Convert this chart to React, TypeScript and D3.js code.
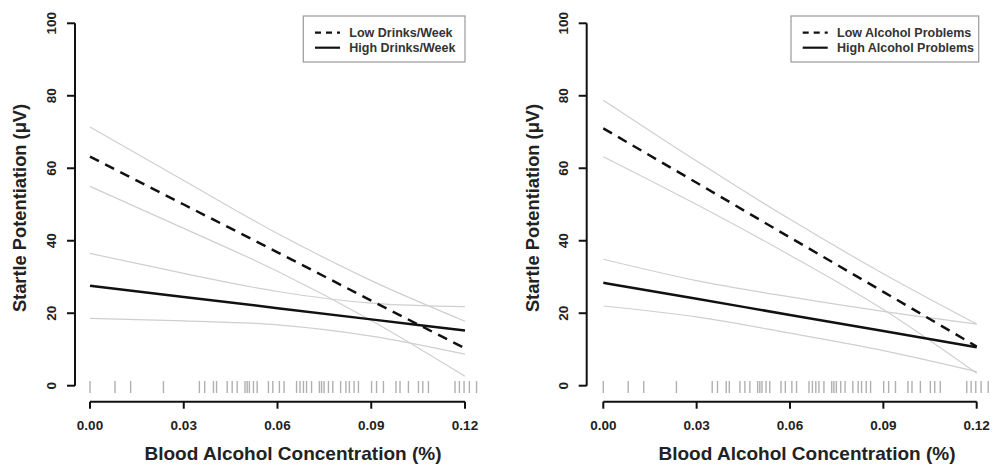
import { useRef, useEffect } from 'react';
import * as d3 from 'd3';

const bacGrid = [0, 0.03, 0.06, 0.09, 0.12];

// left panel: drinks per week
const drinksLowFit = [63.2, 50.0, 36.8, 23.5, 10.3];
const drinksLowUpper = [71.4, 56.6, 42.0, 29.0, 17.8];
const drinksLowLower = [55.0, 43.4, 31.6, 18.0, 2.6];
const drinksHighFit = [27.6, 24.5, 21.4, 18.3, 15.2];
const drinksHighUpper = [36.5, 31.0, 26.0, 22.8, 21.8];
const drinksHighLower = [18.6, 17.9, 16.8, 13.7, 8.7];

// right panel: alcohol problems
const problemsLowFit = [71.0, 56.0, 40.9, 25.9, 10.8];
const problemsLowUpper = [78.8, 62.0, 45.9, 30.9, 17.0];
const problemsLowLower = [63.2, 50.0, 36.0, 21.0, 3.4];
const problemsHighFit = [28.4, 24.0, 19.5, 15.1, 10.6];
const problemsHighUpper = [34.9, 29.0, 24.5, 20.5, 17.0];
const problemsHighLower = [22.0, 19.0, 14.5, 9.7, 3.9];

// observed BAC values (rug)
const rugBac = [
  0, 0.008, 0.013, 0.0235, 0.035, 0.0367, 0.0395, 0.0405, 0.0439, 0.0455,
  0.0471, 0.0496, 0.0503, 0.051, 0.0523, 0.0535, 0.0571, 0.0585, 0.0606, 0.0621,
  0.0661, 0.0672, 0.0683, 0.0693, 0.0709, 0.0734, 0.0741, 0.0749, 0.0763, 0.0777,
  0.0802, 0.0819, 0.083, 0.0845, 0.0859, 0.0901, 0.0917, 0.0939, 0.0979, 0.0992,
  0.1019, 0.1051, 0.1065, 0.1083, 0.1168, 0.1182, 0.1197, 0.1214, 0.1237,
];

const xTicks = [0, 0.03, 0.06, 0.09, 0.12];
const yTicks = [0, 20, 40, 60, 80, 100];

const FONT = '"Liberation Sans", Arial, sans-serif';

type PanelProps = {
  axisX: number;
  x0: number;
  x1: number;
  titleX: number;
  yTitleX: number;
  lowFit: number[];
  lowUpper: number[];
  lowLower: number[];
  highFit: number[];
  highUpper: number[];
  highLower: number[];
  legendLabels: string[];
  legendBox: { x: number; w: number };
};

const Panel = (p: PanelProps) => {
  const ref = useRef<SVGGElement>(null);

  useEffect(() => {
    const g = d3.select(ref.current);
    g.selectAll('*').remove();

    const x = d3.scaleLinear().domain([0, 0.12]).range([p.x0, p.x1]);
    const y = d3.scaleLinear().domain([0, 100]).range([385.7, 23.3]);

    const line = d3
      .line<number>()
      .x((_, i) => x(bacGrid[i]))
      .y((d) => y(d))
      .curve(d3.curveMonotoneX);

    // confidence bands
    [p.lowUpper, p.lowLower, p.highUpper, p.highLower].forEach((s) => {
      g.append('path')
        .attr('d', line(s))
        .attr('fill', 'none')
        .attr('stroke', '#cfcfcf')
        .attr('stroke-width', 1.2);
    });

    // rug
    g.selectAll('.rug')
      .data(rugBac)
      .enter()
      .append('line')
      .attr('x1', (d) => x(d))
      .attr('x2', (d) => x(d))
      .attr('y1', 381)
      .attr('y2', 393)
      .attr('stroke', '#b0b0b0')
      .attr('stroke-width', 1.4);

    // fitted lines
    g.append('path')
      .attr('d', line(p.highFit))
      .attr('fill', 'none')
      .attr('stroke', '#111')
      .attr('stroke-width', 2.5);
    g.append('path')
      .attr('d', line(p.lowFit))
      .attr('fill', 'none')
      .attr('stroke', '#111')
      .attr('stroke-width', 2.5)
      .attr('stroke-dasharray', '10,7');

    // y axis
    const ya = g.append('g').attr('transform', `translate(${p.axisX},0)`);
    ya.append('line')
      .attr('y1', y(0))
      .attr('y2', y(100))
      .attr('stroke', '#111')
      .attr('stroke-width', 2);
    yTicks.forEach((t) => {
      ya.append('line')
        .attr('x1', 0)
        .attr('x2', -8)
        .attr('y1', y(t))
        .attr('y2', y(t))
        .attr('stroke', '#111')
        .attr('stroke-width', 2);
      ya.append('text')
        .attr('transform', `translate(-19,${y(t)}) rotate(-90)`)
        .attr('text-anchor', 'middle')
        .attr('font-family', FONT)
        .attr('font-weight', 'bold')
        .attr('font-size', 13.5)
        .attr('fill', '#222')
        .text(t);
    });

    // x axis
    const xa = g.append('g').attr('transform', 'translate(0,401.7)');
    xa.append('line')
      .attr('x1', x(0))
      .attr('x2', x(0.12))
      .attr('stroke', '#111')
      .attr('stroke-width', 2);
    xTicks.forEach((t) => {
      xa.append('line')
        .attr('x1', x(t))
        .attr('x2', x(t))
        .attr('y1', 0)
        .attr('y2', 7)
        .attr('stroke', '#111')
        .attr('stroke-width', 2);
      xa.append('text')
        .attr('x', x(t))
        .attr('y', 28)
        .attr('text-anchor', 'middle')
        .attr('font-family', FONT)
        .attr('font-weight', 'bold')
        .attr('font-size', 13.5)
        .attr('fill', '#222')
        .text(d3.format('.2f')(t));
    });

    // titles
    g.append('text')
      .attr('x', p.titleX)
      .attr('y', 460)
      .attr('text-anchor', 'middle')
      .attr('font-family', FONT)
      .attr('font-weight', 'bold')
      .attr('font-size', 19)
      .attr('fill', '#222')
      .text('Blood Alcohol Concentration (%)');
    g.append('text')
      .attr('transform', `translate(${p.yTitleX},208) rotate(-90)`)
      .attr('text-anchor', 'middle')
      .attr('font-family', FONT)
      .attr('font-weight', 'bold')
      .attr('font-size', 18.3)
      .attr('fill', '#222')
      .text('Startle Potentiation (μV)');

    // legend
    const lg = g.append('g').attr('transform', `translate(${p.legendBox.x},16)`);
    lg.append('rect')
      .attr('width', p.legendBox.w)
      .attr('height', 46)
      .attr('fill', '#fff')
      .attr('stroke', '#999')
      .attr('stroke-width', 1.2);
    p.legendLabels.forEach((lab, i) => {
      const yy = 16.7 + i * 15;
      lg.append('line')
        .attr('x1', 11.7)
        .attr('x2', 36.7)
        .attr('y1', yy)
        .attr('y2', yy)
        .attr('stroke', '#111')
        .attr('stroke-width', 2.2)
        .attr('stroke-dasharray', i === 0 ? '6,5' : null);
      lg.append('text')
        .attr('x', 46)
        .attr('y', yy + 4.5)
        .attr('font-family', FONT)
        .attr('font-weight', 'bold')
        .attr('font-size', 12.5)
        .attr('fill', '#333')
        .text(lab);
    });
  }, [p]);

  return <g ref={ref} />;
};

export default function App() {
  return (
    <svg
      width={992}
      height={467}
      style={{ position: 'absolute', left: 0, top: 0, background: '#fff' }}
    >
      <Panel
        axisX={75}
        x0={90}
        x1={465}
        titleX={293}
        yTitleX={26}
        lowFit={drinksLowFit}
        lowUpper={drinksLowUpper}
        lowLower={drinksLowLower}
        highFit={drinksHighFit}
        highUpper={drinksHighUpper}
        highLower={drinksHighLower}
        legendLabels={['Low Drinks/Week', 'High Drinks/Week']}
        legendBox={{ x: 303.3, w: 161.7 }}
      />
      <Panel
        axisX={586.7}
        x0={603.3}
        x1={976.7}
        titleX={807}
        yTitleX={539}
        lowFit={problemsLowFit}
        lowUpper={problemsLowUpper}
        lowLower={problemsLowLower}
        highFit={problemsHighFit}
        highUpper={problemsHighUpper}
        highLower={problemsHighLower}
        legendLabels={['Low Alcohol Problems', 'High Alcohol Problems']}
        legendBox={{ x: 791, w: 187.7 }}
      />
    </svg>
  );
}
